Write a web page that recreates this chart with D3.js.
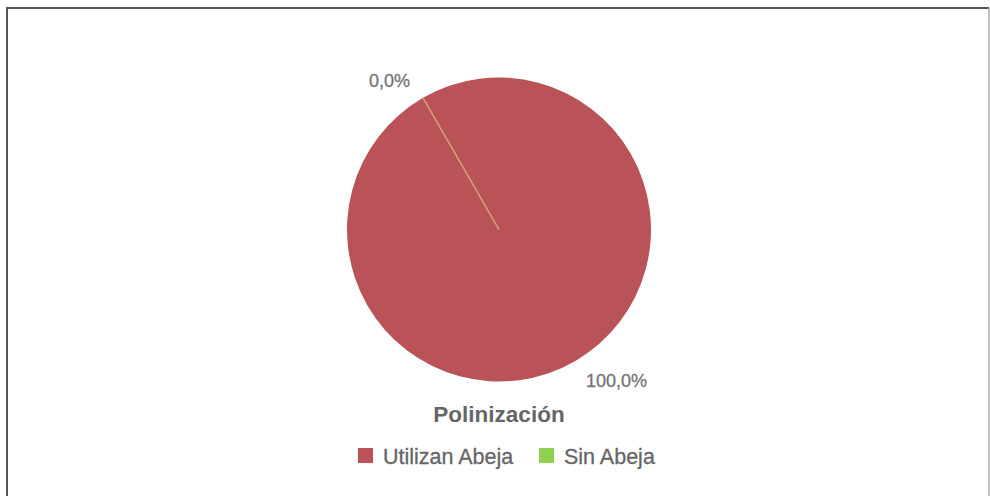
<!DOCTYPE html>
<html>
<head>
<meta charset="utf-8">
<script src="https://cdn.jsdelivr.net/npm/d3@7"></script>
<style>
  body { margin: 0; background: #fff; }
  svg text { font-family: "Liberation Sans", Arial, sans-serif; }
</style>
</head>
<body>
<div id="chart"></div>
<script>
// data
const categories = ['Utilizan Abeja', 'Sin Abeja'];
const values = [100, 0];
const colors = ['#b95357', '#92d050'];
const title = 'Polinización';

const width = 990, height = 496;
const cx = 499, cy = 229.5, radius = 152;

const svg = d3.select('#chart')
  .append('svg')
  .attr('width', width)
  .attr('height', height);

// frame
svg.append('path')
  .attr('d', 'M7,' + height + 'V8H989')
  .attr('fill', 'none')
  .attr('stroke', '#555')
  .attr('stroke-width', 2);
svg.append('line')
  .attr('x1', 989).attr('x2', 989)
  .attr('y1', 8).attr('y2', height)
  .attr('stroke', '#aaa')
  .attr('stroke-width', 1.5);

const total = d3.sum(values);
const data = categories.map((c, i) => ({ name: c, value: values[i], color: colors[i] }));

const pie = d3.pie()
  .sort(null)
  .value(d => d.value)
  .startAngle(-Math.PI / 6)
  .endAngle(2 * Math.PI - Math.PI / 6);

const arc = d3.arc().innerRadius(0).outerRadius(radius);

const g = svg.append('g')
  .attr('transform', 'translate(' + cx + ',' + cy + ')');

const arcs = pie(data);

g.selectAll('.slice')
  .data(arcs)
  .enter().append('path')
  .attr('class', 'slice')
  .attr('d', arc)
  .attr('fill', d => d.data.color)
  .attr('stroke', d => d.data.value === 0 ? '#d4a27a' : 'none')
  .attr('stroke-width', 1.5);

// percent labels, outside end
const fmt = v => d3.format('.1f')(v).replace('.', ',') + '%';
g.selectAll('.pct')
  .data(arcs)
  .enter().append('text')
  .attr('class', 'pct')
  .each(function(d) {
    const a = (d.startAngle + d.endAngle) / 2;
    const px = Math.sin(a) * (radius + 8);
    const py = -Math.cos(a) * (radius + 8);
    const left = px < 0, top = py < 0;
    d3.select(this)
      .attr('x', px + (left ? -9 : 7))
      .attr('y', py + (top ? -4 : 19))
      .attr('text-anchor', left ? 'end' : 'start');
  })
  .attr('font-size', '18px')
  .attr('fill', '#737373')
  .attr('stroke', '#737373')
  .attr('stroke-width', 0.3)
  .text(d => fmt(d.data.value / total * 100));

// title
svg.append('text')
  .attr('x', cx)
  .attr('y', 422)
  .attr('text-anchor', 'middle')
  .attr('font-size', '22.5px')
  .attr('font-weight', 'bold')
  .attr('fill', '#666')
  .text(title);

// legend
const legendX = [358, 539];
const legend = svg.selectAll('.legend')
  .data(data)
  .enter().append('g')
  .attr('class', 'legend')
  .attr('transform', (d, i) => 'translate(' + legendX[i] + ',448)');

legend.append('rect')
  .attr('width', 15)
  .attr('height', 15)
  .attr('fill', d => d.color);

legend.append('text')
  .attr('x', 25)
  .attr('y', 15.5)
  .attr('font-size', '21.5px')
  .attr('fill', '#666')
  .attr('stroke', '#666')
  .attr('stroke-width', 0.3)
  .text(d => d.name);
</script>
</body>
</html>
